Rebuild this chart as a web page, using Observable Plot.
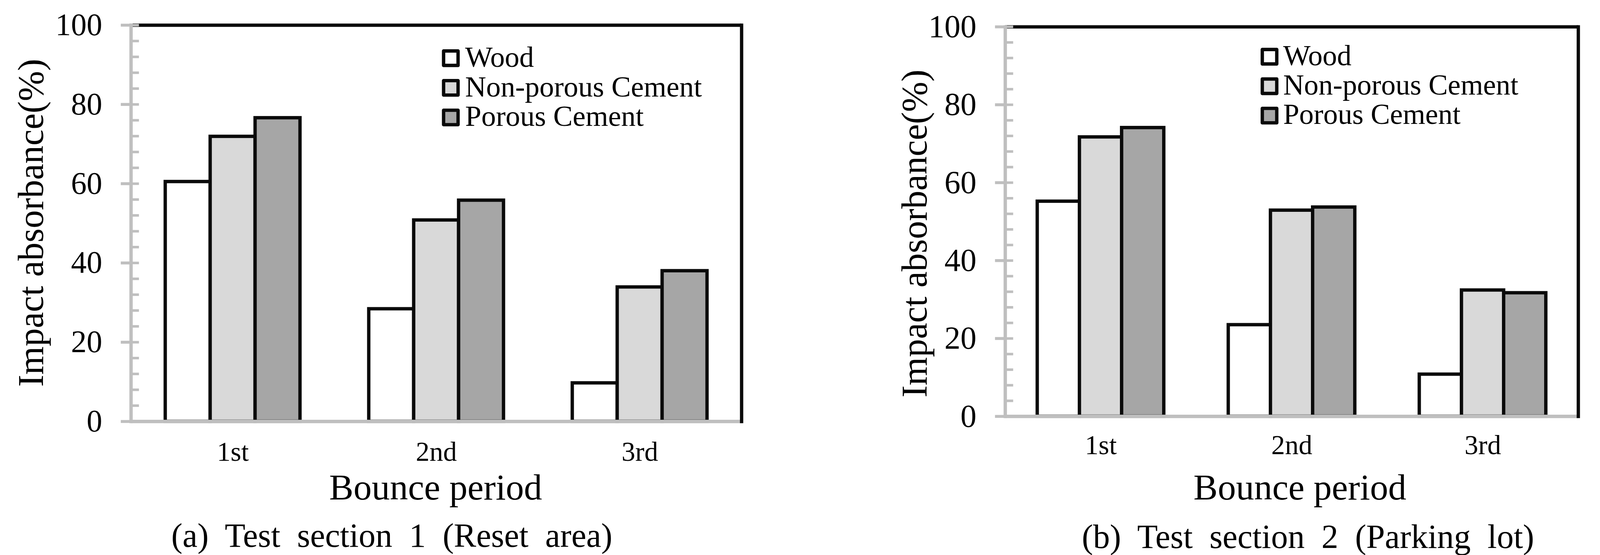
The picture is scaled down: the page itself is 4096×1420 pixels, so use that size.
<!DOCTYPE html>
<html>
<head>
<meta charset="utf-8">
<script src="https://cdn.jsdelivr.net/npm/d3@7"></script>
<script src="https://cdn.jsdelivr.net/npm/@observablehq/plot@0.6"></script>
<style>
html, body { margin: 0; padding: 0; background: #fff; }
#wrap { display: flex; width: 4096px; height: 1420px; overflow: hidden; }
#wrap svg text, #wrap svg tspan { white-space: pre; font-family: "Liberation Serif", "Times New Roman", serif !important; }
</style>
</head>
<body>
<div id="wrap"></div>
<script>
// ---- data ----
const periods = ["1st", "2nd", "3rd"];
const materials = ["Wood", "Non-porous Cement", "Porous Cement"];
const fills = ["#ffffff", "#d9d9d9", "#a6a6a6"];

const s1Wood = [60.5, 28.4, 9.7];
const s1NonPorous = [71.9, 50.8, 33.9];
const s1Porous = [76.6, 55.8, 38.0];

const s2Wood = [55.2, 23.5, 10.8];
const s2NonPorous = [71.7, 52.9, 32.4];
const s2Porous = [74.1, 53.7, 31.7];

const yMajorTicks = [0, 20, 40, 60, 80, 100];
const yMinorTicks = [0, 4, 8, 12, 16, 20, 24, 28, 32, 36, 40, 44, 48, 52, 56, 60, 64, 68, 72, 76, 80, 84, 88, 92, 96, 100];

const yTitle = "Impact absorbance(%)";
const xTitle = "Bounce period";
const captions = ["(a)  Test  section  1  (Reset  area)", "(b)  Test  section  2  (Parking  lot)"];

// ---- layout / style ----
const FONT = "Liberation Serif";
const GRAY = "#bfbfbf";
const BLACK = "#0a0a0a";

function table(series) {
  return periods.flatMap((p, i) => materials.map((m, j) => ({period: p, material: m, value: series[j][i]})));
}

function chart(series, caption, L) {
  const data = table(series);
  const mid = () => periods[1];
  const first = () => periods[0];
  const legendMarks = materials.flatMap((m, i) => [
    Plot.dot([m], {fx: mid, frameAnchor: "top-left", dx: L.swX, dy: L.rows[i], symbol: "square", r: 20.9,
      fill: fills[i], stroke: BLACK, strokeWidth: 8.6, strokeLinejoin: "round"}),
    Plot.text([m], {fx: mid, frameAnchor: "top-left", text: d => d, dx: L.txX, dy: L.rows[i] - 2,
      textAnchor: "start", lineAnchor: "middle", fontSize: L.lgFont, fontFamily: FONT, fill: "black"})
  ]);
  return Plot.plot({
    width: 2048,
    height: 1420,
    marginLeft: L.ml, marginRight: L.mr, marginTop: L.mt, marginBottom: L.mb,
    facet: {marginTop: 0, marginRight: 0, marginBottom: 0, marginLeft: 0},
    style: {fontFamily: FONT, background: "white", color: "black"},
    fx: {domain: periods, padding: 0, label: null},
    x: {domain: materials, paddingInner: 0, paddingOuter: 0.748, axis: null},
    y: {domain: [0, 100], label: null},
    marks: [
      Plot.barY(data, {fx: "period", x: "material", y: "value", fill: d => fills[materials.indexOf(d.material)],
        stroke: BLACK, strokeWidth: 8.6}),
      Plot.ruleY([0], {stroke: GRAY, strokeWidth: 8.6}),
      Plot.ruleY([100], {stroke: BLACK, strokeWidth: 8.5}),
      Plot.frame({anchor: "right", facetAnchor: "right", stroke: BLACK, strokeWidth: 8.5, strokeLinecap: "square"}),
      Plot.axisY({ticks: yMinorTicks, tickSize: -20.7, fill: "none", stroke: GRAY, strokeWidth: 6.5}),
      Plot.axisY({ticks: yMajorTicks, tickSize: 25.8, tickPadding: 48, stroke: GRAY, strokeWidth: 7.5,
        fontSize: L.yFont, fontFamily: FONT, fill: "black", tickFormat: d => String(d)}),
      Plot.frame({anchor: "left", facetAnchor: "left", stroke: GRAY, strokeWidth: 8.6}),
      Plot.axisFx({anchor: "bottom", tickSize: 0, tickPadding: L.fxPad, fontSize: L.fxFont, fontFamily: FONT,
        fill: "black", label: null}),
      Plot.text([yTitle], {fx: first, frameAnchor: "left", text: d => d, rotate: -90, textAnchor: "middle",
        lineAnchor: "bottom", dx: L.ytDx, dy: L.ytDy, fontSize: 93, fontFamily: FONT, fill: "black"}),
      Plot.text([xTitle], {fx: mid, frameAnchor: "bottom", text: d => d, textAnchor: "middle",
        lineAnchor: "bottom", dx: L.xtDx, dy: L.xtDy, fontSize: L.xtFont, fontFamily: FONT, fill: "black"}),
      Plot.text([caption], {fx: mid, frameAnchor: "bottom", text: d => d, textAnchor: "middle",
        lineAnchor: "bottom", dx: L.capDx, dy: L.capDy, fontSize: 86, fontFamily: FONT, fill: "black"}),
      ...legendMarks
    ]
  });
}

const layoutA = {ml: 334.0, mr: 148.5, mt: 63.9, mb: 342.1, yFont: 80, fxFont: 70, fxPad: 50.6,
  ytDx: -225.3, ytDy: -1.3, xtDx: -1.7, xtDy: 199.1, xtFont: 93, capDx: -113.9, capDy: 320.1,
  swX: 297.6, txX: 334.2, rows: [84.5, 160.3, 236.1], lgFont: 74.5};
const layoutB = {ml: 523.7, mr: 55.4, mt: 68.2, mb: 355.1, yFont: 82, fxFont: 70, fxPad: 47.3,
  ytDx: -201.9, ytDy: 30.5, xtDx: 20.8, xtDy: 212.1, xtFont: 93, capDx: 41.5, capDy: 337.0,
  swX: 187.5, txX: 222.4, rows: [76.4, 151.9, 227.0], lgFont: 74};

const wrap = document.getElementById("wrap");
wrap.append(chart([s1Wood, s1NonPorous, s1Porous], captions[0], layoutA));
wrap.append(chart([s2Wood, s2NonPorous, s2Porous], captions[1], layoutB));
</script>
</body>
</html>
